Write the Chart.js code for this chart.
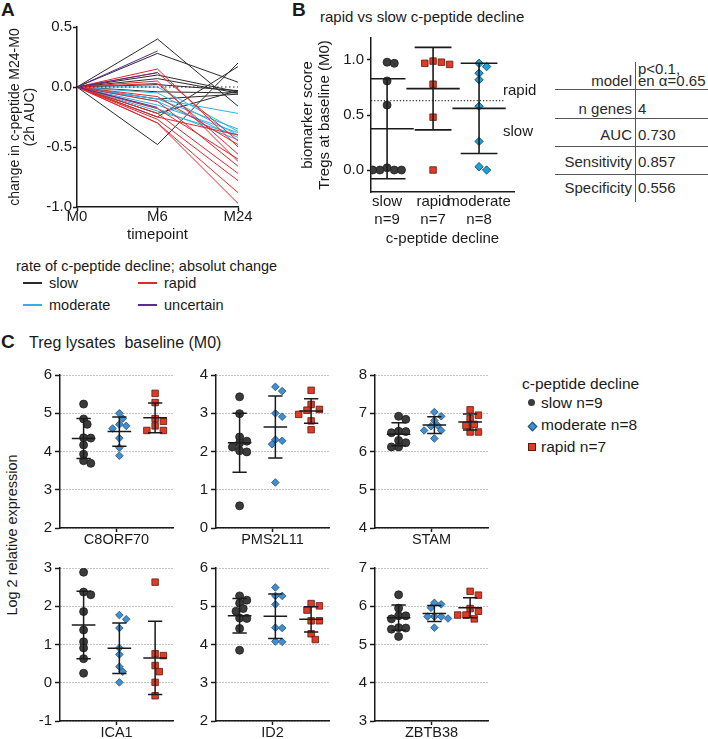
<!DOCTYPE html>
<html>
<head>
<meta charset="utf-8">
<script src="https://cdn.jsdelivr.net/npm/chart.js@4.4.1/dist/chart.umd.min.js"></script>
<style>
  body { margin: 0; width: 708px; height: 739px; position: relative; overflow: hidden; background: #fff;
         font-family: "Liberation Sans", Arial, Helvetica, sans-serif; color: #1a1a1a; }
  canvas { position: absolute; }
  .t { position: absolute; line-height: 1; white-space: pre; }
  .b { font-weight: bold; font-size: 19px; }
  .hl { position: absolute; height: 1px; background: #555; }
  .vl { position: absolute; width: 1px; background: #555; }
  .dash { position: absolute; width: 19px; height: 2px; }
</style>
</head>
<body>

<!-- panel A -->
<div class="t b" style="left:1px;top:0px">A</div>
<canvas id="chartA" width="262" height="245" style="left:0;top:0"></canvas>
<div class="t" style="left:16px;top:259px;font-size:14.5px">rate of c-peptide decline; absolut change</div>
<div class="dash" style="left:23px;top:282px;background:#2b2b2b"></div>
<div class="t" style="left:49px;top:276px;font-size:14.5px">slow</div>
<div class="dash" style="left:23px;top:304px;background:#2bb3e6"></div>
<div class="t" style="left:49px;top:298px;font-size:14.5px">moderate</div>
<div class="dash" style="left:138px;top:282px;background:#e0282e"></div>
<div class="t" style="left:164px;top:276px;font-size:14.5px">rapid</div>
<div class="dash" style="left:138px;top:304px;background:#5b2c8f"></div>
<div class="t" style="left:164px;top:298px;font-size:14.5px">uncertain</div>

<!-- panel B -->
<div class="t b" style="left:292px;top:0px">B</div>
<div class="t" style="left:320px;top:9px;font-size:15px">rapid vs slow c-peptide decline</div>
<canvas id="chartB" width="250" height="225" style="left:295px;top:25px"></canvas>

<!-- model table -->
<div class="vl" style="left:635px;top:62px;height:140px"></div>
<div class="hl" style="left:555px;top:89px;width:153px"></div>
<div class="hl" style="left:555px;top:118px;width:153px"></div>
<div class="hl" style="left:555px;top:146px;width:153px"></div>
<div class="hl" style="left:555px;top:174px;width:153px"></div>
<div id="table"></div>

<!-- panel C -->
<div class="t b" style="left:1px;top:332px">C</div>
<div class="t" style="left:29px;top:335px;font-size:16px">Treg lysates  baseline (M0)</div>
<div class="t" style="left:12px;top:535px;font-size:14.5px;transform:translate(-50%,-50%) rotate(-90deg)">Log 2 relative expression</div>
<canvas id="c1" width="155" height="183" style="left:24px;top:363px"></canvas>
<canvas id="c2" width="155" height="183" style="left:180px;top:363px"></canvas>
<canvas id="c3" width="155" height="183" style="left:339px;top:363px"></canvas>
<canvas id="c4" width="155" height="183" style="left:24px;top:556px"></canvas>
<canvas id="c5" width="155" height="183" style="left:180px;top:556px"></canvas>
<canvas id="c6" width="155" height="183" style="left:339px;top:556px"></canvas>

<div class="t" style="left:522px;top:376px;font-size:15.5px">c-peptide decline</div>
<div style="position:absolute;left:528px;top:399px;width:7px;height:7px;border-radius:50%;background:#3b3b3b"></div>
<div class="t" style="left:541px;top:395px;font-size:15.5px">slow n=9</div>
<div style="position:absolute;left:529px;top:423px;width:5px;height:5px;transform:rotate(45deg);background:#3f8fd2;border:0.5px solid #1d4e7a"></div>
<div class="t" style="left:541px;top:417px;font-size:15.5px">moderate n=8</div>
<div style="position:absolute;left:528px;top:443px;width:6px;height:6px;background:#e23a25;border:1px solid #5b1a12"></div>
<div class="t" style="left:541px;top:439px;font-size:15.5px">rapid n=7</div>

<script>
Chart.defaults.font.family = '"Liberation Sans", Arial, Helvetica, sans-serif'
Chart.defaults.color = '#1a1a1a'
Chart.defaults.animation = false
Chart.defaults.plugins.legend.display = false
Chart.defaults.plugins.tooltip.enabled = false

// ---- panel A: change in c-peptide per patient
const timepoints = ['M0', 'M6', 'M24']
const slowM6 = [0.40, 0.28, -0.48, -0.25, 0.10, 0.07, 0.02, -0.04, -0.10, -0.22]
const slowM24 = [-0.16, 0.04, 0.20, 0.17, -0.04, -0.05, -0.03, -0.05, -0.06, -0.03]
const moderateM6 = [0.00, -0.05, -0.10, -0.12, -0.15, -0.18, -0.20, -0.10]
const moderateM24 = [-0.37, -0.40, -0.35, -0.42, -0.38, -0.44, -0.40, -0.22]
const rapidM6 = [0.15, 0.12, 0.05, 0.03, -0.08, -0.12, -0.18, -0.22, -0.27, -0.30, -0.30, -0.25]
const rapidM24 = [-0.50, -0.45, -0.62, -0.56, -0.48, -0.66, -0.60, -0.72, -0.78, -0.88, -0.97, -0.40]
const uncertainM6 = [0.30, 0.12, -0.17]

// ---- panel B: biomarker score
const bGroups = ['slow', 'rapid', 'moderate']
const bCounts = [9, 7, 8]
const bSlow = [0.98, 0.97, 0.81, 0.59, 0.02, 0.00, 0.00, 0.00, 0.00]
const bRapid = [0.99, 0.98, 0.97, 0.96, 0.78, 0.48, 0.00]
const bModerate = [0.97, 0.94, 0.88, 0.82, 0.58, 0.26, 0.03, 0.00]
const bMean = [0.375, 0.74, 0.56]
const bSd = [0.455, 0.375, 0.41]
const bCutoff = 0.63
const bCutoffLabels = ['rapid', 'slow']

// ---- model table
const tableRows = ['model', 'n genes', 'AUC', 'Sensitivity', 'Specificity']
const tableValues = [['p<0.1,', 'en \u03b1=0.65'], ['4'], ['0.730'], ['0.857'], ['0.556']]

// ---- panel C: Treg lysates, log2 relative expression (slow, moderate, rapid)
const genes = ['C8ORF70', 'PMS2L11', 'STAM', 'ICA1', 'ID2', 'ZBTB38']
const geneRanges = [[2, 6], [0, 4], [4, 8], [-1, 3], [2, 6], [3, 7]]
const c8orf70 = {
  slow: [5.24, 4.85, 4.71, 4.36, 4.35, 4.17, 3.93, 3.76, 3.69],
  moderate: [5.00, 4.86, 4.71, 4.67, 4.60, 4.35, 4.10, 3.89],
  rapid: [5.52, 5.28, 4.86, 4.79, 4.67, 4.55, 4.55],
  mean: [4.34, 4.52, 4.88], sd: [0.52, 0.38, 0.39]
}
const pms2l11 = {
  slow: [3.43, 2.99, 2.38, 2.27, 2.22, 2.12, 2.02, 1.99, 0.58],
  moderate: [3.69, 3.58, 3.00, 2.91, 2.31, 2.28, 2.19, 1.19],
  rapid: [3.60, 3.23, 3.10, 3.08, 2.97, 2.80, 2.57],
  mean: [2.23, 2.64, 3.06], sd: [0.77, 0.81, 0.32]
}
const stam = {
  slow: [6.92, 6.84, 6.53, 6.52, 6.49, 6.29, 6.23, 6.12, 6.12],
  moderate: [7.03, 6.92, 6.81, 6.68, 6.66, 6.55, 6.55, 6.34],
  rapid: [7.09, 6.95, 6.86, 6.71, 6.68, 6.51, 6.51],
  mean: [6.45, 6.69, 6.77], sd: [0.30, 0.22, 0.21]
}
const ica1 = {
  slow: [2.89, 2.37, 2.30, 1.86, 1.38, 1.07, 0.91, 0.63, 0.25],
  moderate: [1.77, 1.66, 1.43, 0.91, 0.74, 0.42, 0.29, 0.01],
  rapid: [2.63, 0.76, 0.71, 0.45, 0.29, 0.01, -0.34],
  mean: [1.51, 0.90, 0.65], sd: [0.88, 0.66, 0.96]
}
const id2 = {
  slow: [5.27, 5.16, 5.08, 4.94, 4.87, 4.69, 4.68, 4.42, 3.85],
  moderate: [5.49, 5.27, 5.27, 5.05, 4.44, 4.43, 4.08, 4.07],
  rapid: [5.07, 5.01, 4.90, 4.62, 4.62, 4.28, 4.13],
  mean: [4.75, 4.74, 4.66], sd: [0.45, 0.58, 0.33]
}
const zbtb38 = {
  slow: [6.30, 5.95, 5.75, 5.75, 5.67, 5.44, 5.43, 5.40, 5.21],
  moderate: [6.09, 6.05, 5.96, 5.73, 5.73, 5.73, 5.68, 5.44],
  rapid: [6.39, 6.29, 5.94, 5.87, 5.77, 5.77, 5.67],
  mean: [5.70, 5.81, 5.96], sd: [0.33, 0.21, 0.26]
}

const colSlow = '#2b2b2b', colModerate = '#2bb3e6', colRapid = '#e0282e', colUncertain = '#5b2c8f'
const ink = '#1a1a1a'

// spread points sideways so they don't pile up (column scatter); some overlap allowed
function swarm(values, pxPerY, pxPerX, minDist) {
  const placed = []
  return values.map(v => {
    const py = v * pxPerY
    for (let k = 0; k < 30; k++) {
      const sx = (k % 2 ? 1 : -1) * Math.ceil(k / 2) * minDist * 0.6
      if (placed.every(p => Math.hypot(p.x - sx, p.y - py) >= minDist)) {
        placed.push({x: sx, y: py})
        return sx / pxPerX
      }
    }
    return 0
  })
}

function errorBars(mean, sd, capHalf, meanHalf) {
  const pts = []
  mean.forEach((m, i) => {
    const lo = m - sd[i], hi = m + sd[i]
    pts.push({x: i, y: lo}, {x: i, y: hi}, {x: i, y: null},
      {x: i - capHalf, y: hi}, {x: i + capHalf, y: hi}, {x: i, y: null},
      {x: i - capHalf, y: lo}, {x: i + capHalf, y: lo}, {x: i, y: null},
      {x: i - meanHalf, y: m}, {x: i + meanHalf, y: m}, {x: i, y: null})
  })
  return pts
}

function pointSet(values, idx, style, fill, border, radius, pxPerY, pxPerX) {
  const off = swarm(values, pxPerY, pxPerX, radius * 1.5)
  return {
    type: 'scatter',
    data: values.map((v, j) => ({x: idx + off[j], y: v})),
    pointStyle: style, pointRadius: radius, backgroundColor: fill, borderColor: border, borderWidth: 0.8
  }
}

// ---------- A
function lineSet(m6, m24, color) {
  return m6.map((v, i) => ({
    data: [0, v, m24 ? m24[i] : null], borderColor: color, borderWidth: 1, pointRadius: 0
  }))
}

new Chart(document.getElementById('chartA'), {
  type: 'line',
  data: {
    labels: timepoints,
    datasets: [
      {data: [0, 0, 0], borderColor: '#222', borderWidth: 1.2, borderDash: [1.5, 2.5], pointRadius: 0},
      ...lineSet(uncertainM6, null, colUncertain),
      ...lineSet(rapidM6, rapidM24, colRapid),
      ...lineSet(moderateM6, moderateM24, colModerate),
      ...lineSet(slowM6, slowM24, colSlow)
    ]
  },
  options: {
    responsive: false,
    layout: {padding: {top: 27, right: 24, left: 0, bottom: 0}},
    scales: {
      x: {
        offset: false,
        grid: {drawOnChartArea: false, tickLength: 4, tickColor: ink, tickWidth: 1.5},
        border: {color: ink, width: 1.5},
        ticks: {font: {size: 15, lineHeight: 1}, padding: -2, color: ink},
        title: {display: true, text: 'timepoint', font: {size: 15}, padding: {top: 0, bottom: 1}, color: ink},
        afterFit: s => { s.height = 38 }
      },
      y: {
        min: -1, max: 0.5,
        ticks: {stepSize: 0.5, callback: v => v.toFixed(1), font: {size: 15}, padding: 1, color: ink},
        grid: {drawOnChartArea: false, tickLength: 4, tickColor: ink, tickWidth: 1.5},
        border: {color: ink, width: 1.5},
        title: {display: true, text: ['change in c-peptide M24-M0', '(2h AUC)'], font: {size: 14, lineHeight: 1.05},
                padding: {top: 8, bottom: 0}, color: ink},
        afterFit: s => { s.width = 77 }
      }
    }
  }
})

// ---------- B
const cutoffText = {
  id: 'cutoffText',
  afterDatasetsDraw(chart) {
    const {ctx, scales: {x, y}} = chart
    ctx.save()
    ctx.font = '15px "Liberation Sans", Arial, sans-serif'
    ctx.fillStyle = ink
    ctx.textBaseline = 'middle'
    ctx.fillText(bCutoffLabels[0], x.getPixelForValue(2.52), y.getPixelForValue(bCutoff + 0.09))
    ctx.fillText(bCutoffLabels[1], x.getPixelForValue(2.52), y.getPixelForValue(bCutoff - 0.28))
    ctx.restore()
  }
}

new Chart(document.getElementById('chartB'), {
  type: 'scatter',
  data: {
    datasets: [
      {data: errorBars(bMean, bSd, 0.4, 0.58), showLine: true, spanGaps: false, borderColor: ink, borderWidth: 1.6, pointRadius: 0},
      {data: [{x: -0.35, y: bCutoff}, {x: 2.57, y: bCutoff}], showLine: true, borderColor: '#333', borderWidth: 1.2, borderDash: [1.2, 2], pointRadius: 0},
      pointSet(bSlow, 0, 'circle', '#3b3b3b', '#1e1e1e', 4, 110, 46),
      pointSet(bRapid, 1, 'rect', '#e23a25', '#5b1a12', 4.6, 110, 46),
      pointSet(bModerate, 2, 'rectRot', '#1ea0d8', '#0d3f5c', 4.2, 110, 46)
    ]
  },
  options: {
    responsive: false,
    layout: {padding: {top: 13, right: 31, left: 0, bottom: 0}},
    scales: {
      x: {
        type: 'linear', min: -0.35, max: 2.76,
        afterBuildTicks: s => { s.ticks = [0, 1, 2].map(v => ({value: v})) },
        ticks: {callback: (v, i) => [bGroups[i], 'n=' + bCounts[i]], font: {size: 15, lineHeight: 1.2}, padding: 1, color: ink, maxRotation: 0, autoSkip: false},
        grid: {display: true, drawOnChartArea: false, drawTicks: false},
        border: {color: ink, width: 1.5},
        title: {display: true, text: 'c-peptide decline', font: {size: 15}, padding: {top: 0, bottom: 2}, color: ink},
        afterFit: s => { s.height = 58 }
      },
      y: {
        min: -0.2, max: 1.2,
        afterBuildTicks: s => { s.ticks = [0, 0.5, 1].map(v => ({value: v})) },
        ticks: {callback: v => v.toFixed(1), font: {size: 15}, padding: 3, color: ink},
        grid: {drawOnChartArea: false, tickLength: 4, tickColor: ink, tickWidth: 1.5},
        border: {color: ink, width: 1.5},
        title: {display: true, text: ['biomarker score', 'Tregs at baseline (M0)'], font: {size: 15, lineHeight: 1.15},
                padding: {top: 4, bottom: 0}, color: ink},
        afterFit: s => { s.width = 76 }
      }
    }
  },
  plugins: [cutoffText]
})

// ---------- table
const table = document.getElementById('table')
const rowCenters = [80, 108, 134, 161, 187]
tableRows.forEach((r, i) => {
  const lab = document.createElement('div')
  lab.className = 't'
  lab.style.cssText = 'right:' + (708 - 632) + 'px;top:' + (rowCenters[i] - 7.5) + 'px;font-size:15px;color:#2a2a2a'
  lab.textContent = r
  table.appendChild(lab)
  const vals = tableValues[i]
  vals.forEach((v, j) => {
    const d = document.createElement('div')
    d.className = 't'
    const c = vals.length > 1 ? rowCenters[i] - 12 + j * 12 : rowCenters[i]
    d.style.cssText = 'left:638px;top:' + (c - 7.5) + 'px;font-size:15px;color:#2a2a2a'
    d.textContent = v
    table.appendChild(d)
  })
})

// ---------- C
function geneChart(id, gene, range, g) {
  const pxY = 155 / (range[1] - range[0]), pxX = 35.8
  const ticks = []
  for (let v = range[0]; v <= range[1]; v++) ticks.push({value: v})
  new Chart(document.getElementById(id), {
    type: 'scatter',
    data: {
      datasets: [
        {data: errorBars(g.mean, g.sd, 0.2, 0.33), showLine: true, spanGaps: false, borderColor: ink, borderWidth: 1.5, pointRadius: 0},
        pointSet(g.slow, 0, 'circle', '#3b3b3b', '#1e1e1e', 4, pxY, pxX),
        pointSet(g.moderate, 1, 'rectRot', '#3f8fd2', '#1d4e7a', 3.8, pxY, pxX),
        pointSet(g.rapid, 2, 'rect', '#e23a25', '#5b1a12', 4.6, pxY, pxX)
      ]
    },
    options: {
      responsive: false,
      layout: {padding: {top: 10, right: 6, left: 0, bottom: 0}},
      scales: {
        x: {
          type: 'linear', min: -0.66, max: 2.5,
          afterBuildTicks: s => { s.ticks = [{value: 0.92}] },
          ticks: {callback: () => gene, font: {size: 14.5, lineHeight: 1}, padding: 1, color: ink, maxRotation: 0},
          grid: {drawOnChartArea: false, tickLength: 4, tickColor: ink, tickWidth: 1.5},
          border: {color: ink, width: 1.5},
          afterFit: s => { s.height = 18 }
        },
        y: {
          min: range[0], max: range[1],
          afterBuildTicks: s => { s.ticks = ticks },
          ticks: {font: {size: 15}, padding: 3, color: ink},
          grid: {color: '#8a8a8a', lineWidth: 1, tickLength: 5, tickColor: ink, tickWidth: 1.5, tickBorderDash: []},
          border: {color: ink, width: 1.5, dash: [1, 2]},
          afterFit: s => { s.width = 36 }
        }
      }
    }
  })
}

const geneData = [c8orf70, pms2l11, stam, ica1, id2, zbtb38]
genes.forEach((gene, i) => geneChart('c' + (i + 1), gene, geneRanges[i], geneData[i]))
</script>
</body>
</html>
